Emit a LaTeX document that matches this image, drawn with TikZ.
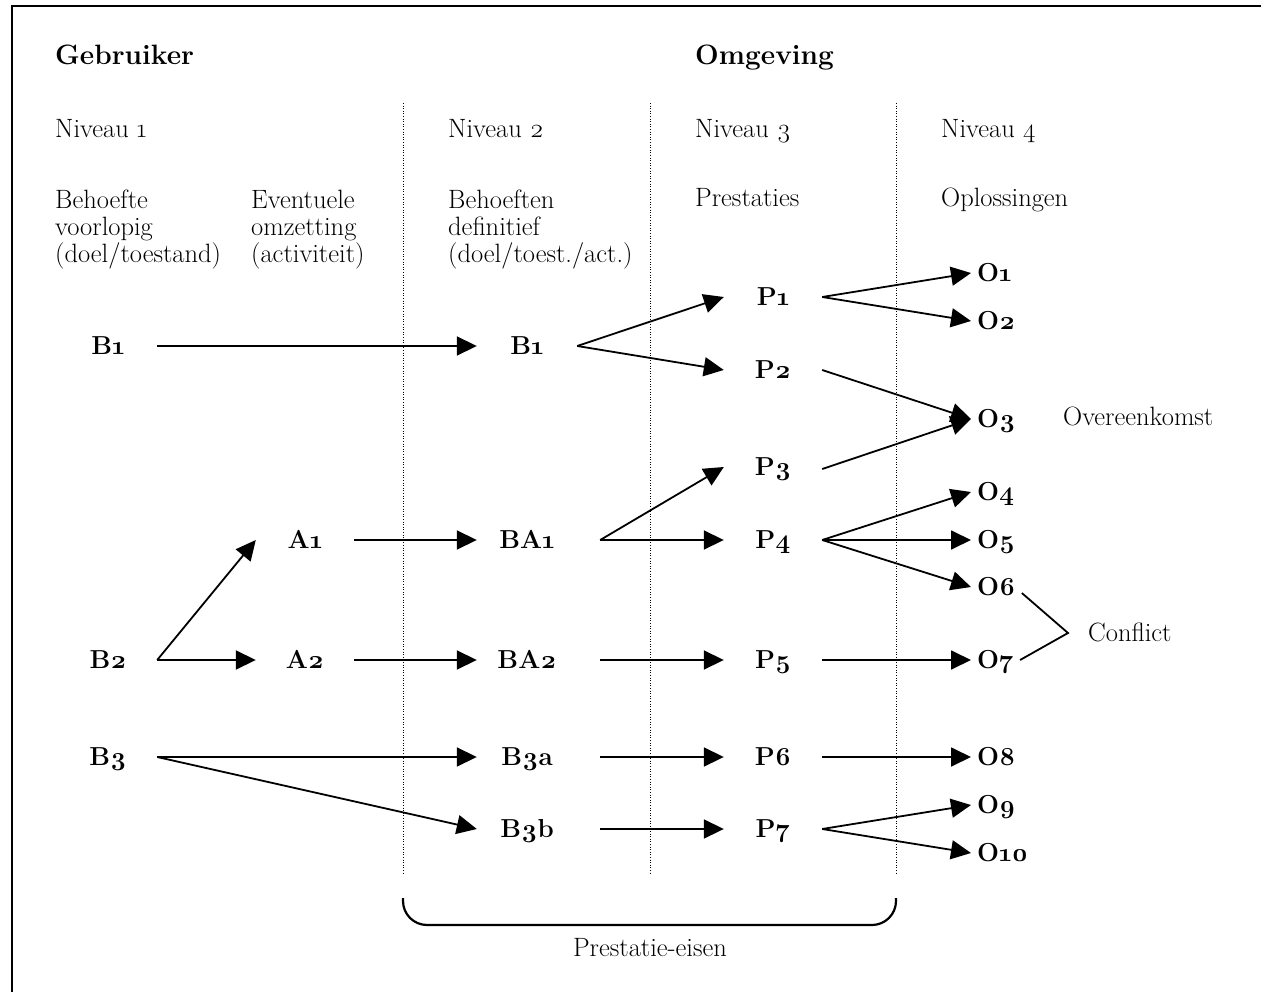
\documentclass[tikz,border=0pt]{standalone}
\usepackage{fontspec}
\setmainfont{Latin Modern Roman}[Numbers=OldStyle]
\usetikzlibrary{arrows.meta}
\tikzset{
  every node/.style={font=\fontsize{26.5}{27}\selectfont},
  txt/.style={anchor=base west, inner sep=0pt},
  multi/.style={anchor=north west, inner sep=0pt, align=left},
  head/.style={anchor=base west, inner sep=0pt, font=\fontsize{28}{28}\selectfont\bfseries},
  lbl/.style={font=\fontsize{26}{27}\selectfont\bfseries, minimum width=98pt, text height=17.5pt, text depth=0pt, inner sep=0pt},
  mid/.style={lbl, minimum width=100pt},
  onode/.style={font=\fontsize{26}{27}\selectfont\bfseries, anchor=west, text height=17.5pt, text depth=0pt, inner xsep=6pt, inner ysep=0pt},
  arr/.style={-{Triangle[length=20pt,width=19pt]}, line width=1.8pt},
  plain/.style={line width=1.8pt},
  divider/.style={line width=0.9pt, dash pattern=on 1pt off 1.6pt},
}
\begin{document}
\begin{tikzpicture}[x=1pt,y=-1pt]
\useasboundingbox (0,0) rectangle (1261,992);
% frame
\draw[line width=2.5pt] (12,992) -- (12,6) -- (1261,6);
% headings
\node[head] (geb) at (55,65) {Gebruiker};
\node[head] (omg) at (695,65) {Omgeving};
\node[txt] (n1) at (55,138) {Niveau 1};
\node[txt] (n2) at (448,138) {Niveau 2};
\node[txt] (n3) at (695,138) {Niveau 3};
\node[txt] (n4) at (941,138) {Niveau 4};
\node[multi] (h1) at (55,190) {Behoefte\\voorlopig\\(doel/toestand)};
\node[multi] (h2) at (251,190) {Eventuele\\omzetting\\(activiteit)};
\node[multi] (h3) at (448,190) {Behoeften\\definitief\\(doel/toest./act.)};
\node[txt] (h4) at (695,207) {Prestaties};
\node[txt] (h5) at (941,207) {Oplossingen};
% dividers
\draw[divider] (403,103) -- (403,873);
\draw[divider] (650,103) -- (650,873);
\draw[divider] (896,103) -- (896,873);
% level 1
\node[lbl] (b1) at (108,346) {B1};
\node[lbl] (b2) at (108,660) {B2};
\node[lbl] (b3) at (108,757) {B3};
\node[lbl] (a1) at (305,540) {A1};
\node[lbl] (a2) at (305,660) {A2};
% level 2
\node[mid] (c1) at (527,346) {B1};
\node[mid] (ba1) at (527,540) {BA1};
\node[mid] (ba2) at (527,660) {BA2};
\node[mid] (b3a) at (527,757) {B3a};
\node[mid] (b3b) at (527,829) {B3b};
% level 3
\node[lbl] (p1) at (773,297) {P1};
\node[lbl] (p2) at (773,370) {P2};
\node[lbl] (p3) at (773,467) {P3};
\node[lbl] (p4) at (773,540) {P4};
\node[lbl] (p5) at (773,660) {P5};
\node[lbl] (p6) at (773,757) {P6};
\node[lbl] (p7) at (773,829) {P7};
% level 4
\node[onode] (o1) at (971,273) {O1};
\node[onode] (o2) at (971,321) {O2};
\node[onode] (o3) at (971,419) {O3};
\node[onode] (o4) at (971,492) {O4};
\node[onode] (o5) at (971,540) {O5};
\node[onode] (o6) at (971,587) {O6};
\node[onode] (o7) at (971,660) {O7};
\node[onode] (o8) at (971,757) {O8};
\node[onode] (o9) at (971,805) {O9};
\node[onode] (o10) at (971,853) {O10};
\node[txt] (ovk) at (1063,425) {Overeenkomst};
\node[txt] (cfl) at (1088,641) {Conflict};
\coordinate (cf) at (1068,633);
% connectors
\draw[arr] (b1.east) -- (c1.west);
\draw[arr] (c1.east) -- (p1.west);
\draw[arr] (c1.east) -- (p2.west);
\draw[arr] (p1.east) -- (o1.west);
\draw[arr] (p1.east) -- (o2.west);
\draw[arr] (p2.east) -- (o3.west);
\draw[arr] ([yshift=-2pt]p3.east) -- (o3.west);
\draw[arr] (b2.east) -- (a1.west);
\draw[arr] (b2.east) -- (a2.west);
\draw[arr] (a1.east) -- (ba1.west);
\draw[arr] (a2.east) -- (ba2.west);
\draw[arr] ([xshift=23pt]ba1.east) -- (p3.west);
\draw[arr] ([xshift=23pt]ba1.east) -- (p4.west);
\draw[arr] ([xshift=23pt]ba2.east) -- (p5.west);
\draw[arr] (p4.east) -- (o4.west);
\draw[arr] (p4.east) -- (o5.west);
\draw[arr] (p4.east) -- (o6.west);
\draw[arr] (p5.east) -- (o7.west);
\draw[arr] (b3.east) -- (b3a.west);
\draw[arr] (b3.east) -- (b3b.west);
\draw[arr] ([xshift=23pt]b3a.east) -- (p6.west);
\draw[arr] ([xshift=23pt]b3b.east) -- (p7.west);
\draw[arr] (p6.east) -- (o8.west);
\draw[arr] (p7.east) -- (o9.west);
\draw[arr] (p7.east) -- (o10.west);
\draw[plain] ([yshift=-6pt]o6.east) -- (cf) -- (o7.east);
% brace
\draw[line width=2.2pt, rounded corners=24pt] (403,898) -- (403,925) -- (896,925) -- (896,898);
\node[anchor=base] (pe) at (650,956) {Prestatie-eisen};
\end{tikzpicture}
\end{document}
